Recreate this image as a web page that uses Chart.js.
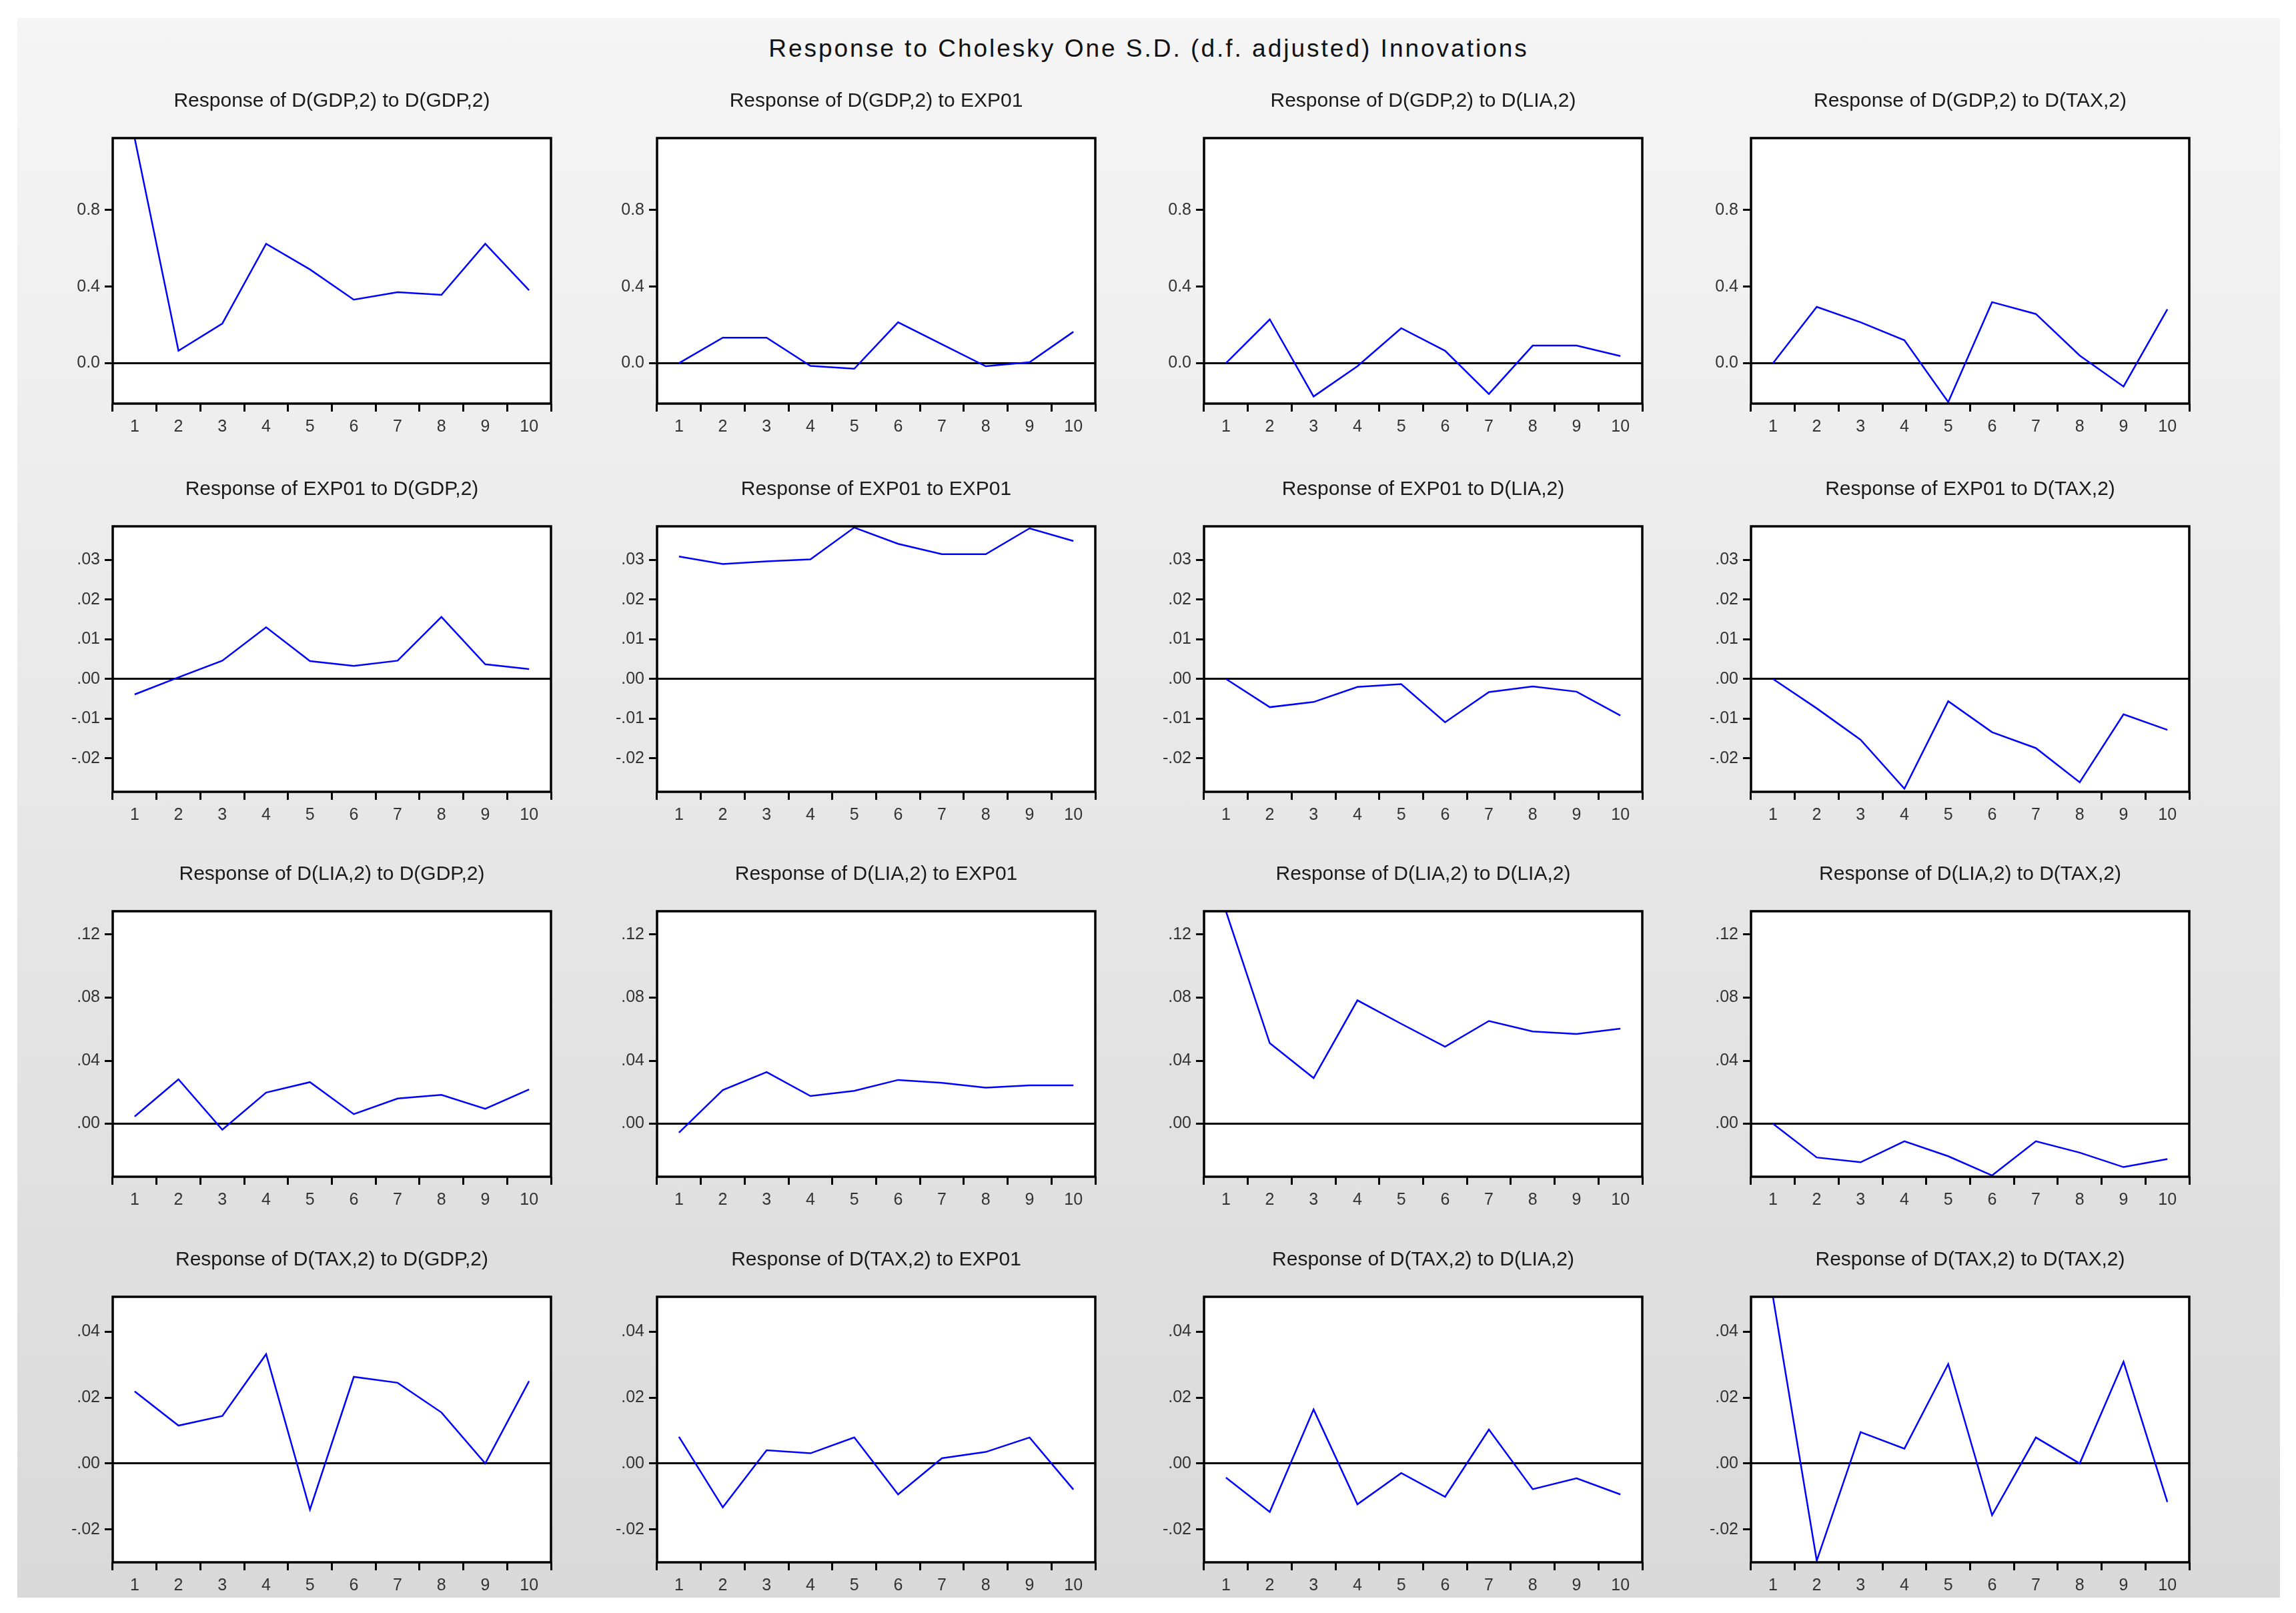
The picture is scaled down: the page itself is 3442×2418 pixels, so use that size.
<!DOCTYPE html>
<html lang="en">
<head>
<meta charset="UTF-8">
<title>Response to Cholesky One S.D. Innovations</title>
<script src="https://cdn.jsdelivr.net/npm/chart.js@4.4.1/dist/chart.umd.min.js"></script>
<style>
    body {
        margin: 0;
        background: #ffffff;
        width: 3442px;
        height: 2418px;
        position: relative;
        overflow: hidden;
        font-family: 'Liberation Sans', Arial, sans-serif;
    }
    #fondo {
        position: absolute;
        left: 26px;
        top: 27px;
        width: 3392px;
        height: 2368px;
        background: linear-gradient(to bottom, #f5f5f5, #d9d9d9);
    }
    #titulo {
        position: absolute;
        left: 0;
        width: 100%;
        top: 25px;
        line-height: 42px;
        text-align: center;
        font-size: 37px;
        letter-spacing: 3px;
        color: #111;
    }
    canvas.panel {
        position: absolute;
    }
</style>
</head>
<body>

<div id="fondo">
    <div id="titulo">Response to Cholesky One S.D. (d.f. adjusted) Innovations</div>
</div>

<script>
    // periods on the x axis
    const periods = ['1', '2', '3', '4', '5', '6', '7', '8', '9', '10'];
    const variables = ['D(GDP,2)', 'EXP01', 'D(LIA,2)', 'D(TAX,2)'];

    // responses of D(GDP,2)
    const gdpToGdp = [1.176, 0.065, 0.207, 0.624, 0.49, 0.332, 0.371, 0.357, 0.624, 0.381];
    const gdpToExp = [0.0, 0.133, 0.133, -0.014, -0.029, 0.214, 0.099, -0.016, 0.005, 0.164];
    const gdpToLia = [0.0, 0.229, -0.174, -0.016, 0.183, 0.065, -0.161, 0.092, 0.092, 0.037];
    const gdpToTax = [0.0, 0.294, 0.214, 0.12, -0.203, 0.319, 0.257, 0.04, -0.122, 0.282];

    // responses of EXP01
    const expToGdp = [-0.0039, 0.0004, 0.0046, 0.013, 0.0045, 0.0033, 0.0046, 0.0156, 0.0037, 0.0025];
    const expToExp = [0.0308, 0.0289, 0.0296, 0.0301, 0.0381, 0.034, 0.0314, 0.0314, 0.0379, 0.0347];
    const expToLia = [0.0, -0.0071, -0.0058, -0.002, -0.0013, -0.0109, -0.0033, -0.0019, -0.0032, -0.0092];
    const expToTax = [0.0, -0.0074, -0.0153, -0.0276, -0.0056, -0.0134, -0.0174, -0.026, -0.0089, -0.0128];

    // responses of D(LIA,2)
    const liaToGdp = [0.0046, 0.0282, -0.0038, 0.0198, 0.0264, 0.0061, 0.016, 0.0183, 0.0095, 0.0218];
    const liaToExp = [-0.0056, 0.0214, 0.0328, 0.0176, 0.0209, 0.0278, 0.026, 0.0229, 0.0244, 0.0244];
    const liaToLia = [0.1348, 0.0511, 0.029, 0.0783, 0.0634, 0.0489, 0.0652, 0.0585, 0.057, 0.0603];
    const liaToTax = [0.0, -0.0214, -0.0244, -0.0111, -0.0206, -0.0328, -0.0111, -0.0183, -0.0275, -0.0224];

    // responses of D(TAX,2)
    const taxToGdp = [0.0219, 0.0115, 0.0144, 0.0332, -0.014, 0.0263, 0.0245, 0.0155, 0.0, 0.025];
    const taxToExp = [0.0081, -0.0133, 0.004, 0.0031, 0.0079, -0.0094, 0.0016, 0.0035, 0.0079, -0.0079];
    const taxToLia = [-0.0043, -0.0147, 0.0164, -0.0124, -0.0029, -0.0101, 0.0103, -0.0078, -0.0045, -0.0094];
    const taxToTax = [0.0506, -0.0295, 0.0095, 0.0045, 0.0302, -0.0157, 0.0079, 0.0, 0.0309, -0.0117];

    // y axis per row (every row shares the same scale)
    const yMin = [-0.211, -0.0284, -0.0336, -0.030];
    const yMax = [1.176, 0.0384, 0.1348, 0.0506];
    const yTicks = [
        [0, 0.4, 0.8],
        [-0.02, -0.01, 0, 0.01, 0.02, 0.03],
        [0, 0.04, 0.08, 0.12],
        [-0.02, 0, 0.02, 0.04]
    ];
    const yTickLabels = [
        ['0.0', '0.4', '0.8'],
        ['-.02', '-.01', '.00', '.01', '.02', '.03'],
        ['.00', '.04', '.08', '.12'],
        ['-.02', '.00', '.02', '.04']
    ];

    const responses = [
        [gdpToGdp, gdpToExp, gdpToLia, gdpToTax],
        [expToGdp, expToExp, expToLia, expToTax],
        [liaToGdp, liaToExp, liaToLia, liaToTax],
        [taxToGdp, taxToExp, taxToLia, taxToTax]
    ];

    // where each plot box sits on the page
    const boxLeft = [169, 985, 1805, 2625];
    const boxTop = [207, 789, 1366, 1944];
    const boxW = 657, boxH = 398;
    const axisW = 100, titleH = 100, axisH = 60, padRight = 20;

    const fuente = 'Liberation Sans, Arial, sans-serif';

    // white plot area and black frame
    const marco = {
        id: 'marco',
        beforeDraw(chart) {
            const a = chart.chartArea, ctx = chart.ctx;
            ctx.save();
            ctx.fillStyle = '#ffffff';
            ctx.fillRect(a.left, a.top, a.right - a.left, a.bottom - a.top);
            ctx.restore();
        },
        afterDraw(chart) {
            const a = chart.chartArea, ctx = chart.ctx;
            ctx.save();
            ctx.strokeStyle = '#000';
            ctx.lineWidth = 3.5;
            ctx.strokeRect(a.left, a.top, a.right - a.left, a.bottom - a.top);
            ctx.restore();
        }
    };

    function crearPanel(r, c) {
        const canvas = document.createElement('canvas');
        canvas.className = 'panel';
        canvas.width = axisW + boxW + padRight;
        canvas.height = titleH + boxH + axisH;
        canvas.style.left = (boxLeft[c] - axisW) + 'px';
        canvas.style.top = (boxTop[r] - titleH) + 'px';
        document.body.appendChild(canvas);

        const etiquetas = yTickLabels[r];

        return new Chart(canvas, {
            type: 'line',
            data: {
                labels: periods,
                datasets: [{
                    data: responses[r][c],
                    borderColor: '#0000ff',
                    borderWidth: 2.5,
                    pointRadius: 0,
                    tension: 0,
                    fill: false
                }]
            },
            options: {
                responsive: false,
                animation: false,
                devicePixelRatio: 1,
                layout: { padding: { right: padRight } },
                plugins: {
                    legend: { display: false },
                    tooltip: { enabled: false },
                    title: {
                        display: true,
                        fullSize: false,   // centre over the plot box, not the canvas
                        text: 'Response of ' + variables[r] + ' to ' + variables[c],
                        color: '#1a1a1a',
                        font: { family: fuente, size: 30, weight: 'normal' },
                        padding: { top: 27, bottom: 37 }
                    }
                },
                scales: {
                    x: {
                        offset: true,
                        grid: {
                            offset: true,
                            drawOnChartArea: false,
                            tickColor: '#000',
                            tickWidth: 3,
                            tickLength: 12
                        },
                        border: { display: false },
                        ticks: {
                            color: '#333',
                            font: { family: fuente, size: 25 },
                            padding: 8,
                            maxRotation: 0,
                            autoSkip: false
                        },
                        afterFit(scale) { scale.height = axisH; }
                    },
                    y: {
                        min: yMin[r],
                        max: yMax[r],
                        grid: {
                            color: ctx => (ctx.tick && ctx.tick.value === 0) ? '#000' : 'rgba(0,0,0,0)',
                            lineWidth: 3,
                            tickColor: '#000',
                            tickWidth: 3,
                            tickLength: 12
                        },
                        border: { display: false },
                        ticks: {
                            color: '#333',
                            font: { family: fuente, size: 25 },
                            padding: 7,
                            autoSkip: false,
                            callback: (v, i) => etiquetas[i]
                        },
                        afterBuildTicks(axis) {
                            axis.ticks = yTicks[r].map(v => ({ value: v }));
                        },
                        afterFit(scale) { scale.width = axisW; }
                    }
                }
            },
            plugins: [marco]
        });
    }

    for (let r = 0; r < 4; r++) {
        for (let c = 0; c < 4; c++) {
            crearPanel(r, c);
        }
    }
</script>

</body>
</html>
